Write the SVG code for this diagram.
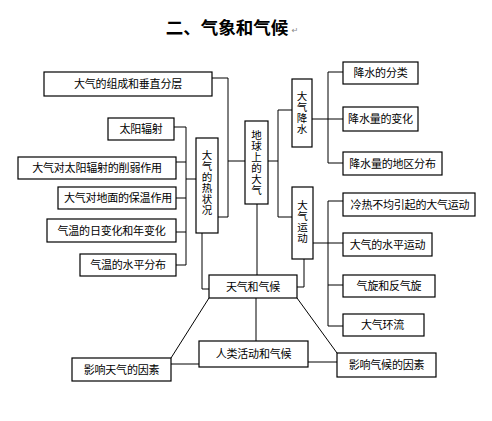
<svg xmlns="http://www.w3.org/2000/svg" width="492" height="421" viewBox="0 0 492 421">
<style>
.box{fill:#fff;stroke:#000;stroke-width:1.2}
.t{font-family:"Noto Sans CJK SC","Liberation Sans",sans-serif;font-size:11px;fill:#000;text-anchor:middle;letter-spacing:-0.2px}
.v{font-family:"Noto Sans CJK SC","Liberation Sans",sans-serif;font-size:10.5px;fill:#000;text-anchor:middle;writing-mode:vertical-rl;letter-spacing:0.5px}
.c{fill:none;stroke:#000;stroke-width:1}
.title{font-family:"Noto Sans CJK SC","Liberation Serif",serif;font-size:17.5px;font-weight:bold;fill:#000;text-anchor:middle}
</style>
<rect width="492" height="421" fill="#fff"/>
<text class="title" x="227" y="34">二、气象和气候</text>
<text x="295" y="33" font-family="DejaVu Sans, sans-serif" font-size="8" fill="#888" text-anchor="middle">↵</text>

<g id="connectors">
<path class="c" d="M212,78 H228 V217 H218"/>
<path class="c" d="M228,161 H245"/>
<path class="c" d="M174,127 H186 V265 H176"/>
<path class="c" d="M176,162 H186 M176,198 H186 M176,232 H186 M186,179 H196"/>
<path class="c" d="M202,233 V289 H209"/>
<path class="c" d="M257,204 V275"/>
<path class="c" d="M268,161 H278"/>
<path class="c" d="M292,110 H278 V217 H292"/>
<path class="c" d="M312,119 H343"/>
<path class="c" d="M343,72 H328 V163 H343"/>
<path class="c" d="M313,243 H343"/>
<path class="c" d="M343,201 H328 V326 H343"/>
<path class="c" d="M328,285 H343"/>
<path class="c" d="M304,259 V287 H297"/>
<path class="c" d="M256,298 V341"/>
<path class="c" d="M171,364 H199"/>
<path class="c" d="M308,362 H337"/>
<path class="c" d="M209,298 L171,358"/>
<path class="c" d="M297,298 L337,353"/>
</g>

<g id="n-composition"><rect class="box" x="44" y="72" width="168" height="24"/><text class="t" x="128" y="88">大气的组成和垂直分层</text></g>
<g id="n-solar"><rect class="box" x="108" y="118" width="66" height="22"/><text class="t" x="141" y="133">太阳辐射</text></g>
<g id="n-weaken"><rect class="box" x="18" y="157" width="158" height="22"/><text class="t" x="97" y="172">大气对太阳辐射的削弱作用</text></g>
<g id="n-insulation"><rect class="box" x="58" y="187" width="118" height="22"/><text class="t" x="118" y="202">大气对地面的保温作用</text></g>
<g id="n-tempchange"><rect class="box" x="47" y="219" width="129" height="23"/><text class="t" x="111.5" y="234.5">气温的日变化和年变化</text></g>
<g id="n-tempdist"><rect class="box" x="80" y="254" width="96" height="22"/><text class="t" x="128" y="269">气温的水平分布</text></g>

<g id="n-thermal"><rect class="box" x="196" y="138" width="22" height="95"/>
<text class="v" x="207" y="183">大气的热状况</text></g>

<g id="n-earth"><rect class="box" x="245" y="121" width="23" height="83"/>
<text class="v" x="256.5" y="163">地球上的大气</text></g>

<g id="n-precip"><rect class="box" x="292" y="79" width="20" height="68"/>
<text class="v" x="302" y="113">大气降水</text></g>

<g id="n-motion"><rect class="box" x="292" y="187" width="21" height="72"/>
<text class="v" x="302.5" y="222">大气运动</text></g>

<g id="n-ptype"><rect class="box" x="343" y="62" width="75" height="22"/><text class="t" x="380.5" y="77">降水的分类</text></g>
<g id="n-pchange"><rect class="box" x="343" y="107" width="75" height="24"/><text class="t" x="380.5" y="123">降水量的变化</text></g>
<g id="n-pdist"><rect class="box" x="343" y="152" width="99" height="23"/><text class="t" x="392.5" y="167.5">降水量的地区分布</text></g>
<g id="n-thermalcirc"><rect class="box" x="343" y="193" width="132" height="23"/><text class="t" x="410" y="208.5">冷热不均引起的大气运动</text></g>
<g id="n-horiz"><rect class="box" x="343" y="233" width="89" height="23"/><text class="t" x="387.5" y="248.5">大气的水平运动</text></g>
<g id="n-cyclone"><rect class="box" x="343" y="275" width="92" height="22"/><text class="t" x="389" y="290">气旋和反气旋</text></g>
<g id="n-circulation"><rect class="box" x="343" y="314" width="81" height="22"/><text class="t" x="382.5" y="329">大气环流</text></g>

<g id="n-weather"><rect class="box" x="209" y="275" width="88" height="23"/><text class="t" x="253" y="290.5">天气和气候</text></g>
<g id="n-human"><rect class="box" x="199" y="341" width="109" height="26"/><text class="t" x="253.5" y="358">人类活动和气候</text></g>
<g id="n-wfactor"><rect class="box" x="72" y="358" width="99" height="23"/><text class="t" x="121.5" y="373.5">影响天气的因素</text></g>
<g id="n-cfactor"><rect class="box" x="337" y="353" width="99" height="24"/><text class="t" x="386.5" y="369">影响气候的因素</text></g>
</svg>
